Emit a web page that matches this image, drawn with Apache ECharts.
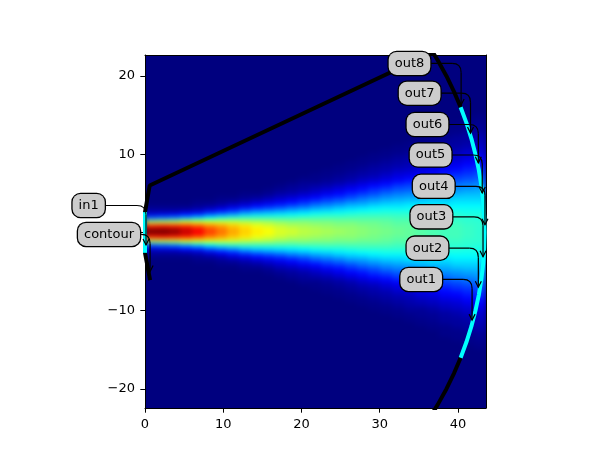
<!DOCTYPE html>
<html><head><meta charset="utf-8">
<script src="https://cdn.jsdelivr.net/npm/echarts@6/dist/echarts.min.js"></script>
<style>html,body{margin:0;background:#fff}#c{width:614px;height:460px}
/* the field layer (zlevel 0) is softened and cut back to the plot rectangle */
#c canvas:first-child{background:#00007f;filter:blur(2.5px);clip-path:inset(55px 128px 52px 145px)}
</style></head>
<body><div id="c"></div><script>
// half-profiles of the field (percent of colour scale), per column; rows at |y| = .25,.75,1.25,...
const fieldColumns = [
[100,85,55,22,8,3,1],
[100,86,56,24,9,3,1],
[98,85,57,26,10,3,1],
[93,84,60,30,13,4,1],
[88,80,60,34,15,6,2,1],
[81,75,60,38,20,9,3,1],
[76,72,59,41,24,12,5,2,1],
[71,68,58,43,27,15,8,3,1],
[67,65,56,44,31,19,10,5,2,1],
[64,61,55,44,33,22,13,7,3,1],
[62,59,54,44,34,24,15,9,5,2,1],
[59,57,52,44,35,26,17,11,7,4,2,1],
[58,55,51,44,36,28,20,13,9,5,3,2,1],
[56,54,51,45,37,30,22,16,11,7,4,3,2,1],
[55,53,50,45,39,32,25,19,13,9,6,4,2,1,1],
[54,52,50,45,40,33,27,21,16,11,8,5,3,2,1,1],
[53,51,49,45,40,35,29,23,18,13,10,7,4,3,2,1,1],
[52,51,49,45,41,36,31,26,20,16,12,9,6,4,3,2,1,1],
[51,50,48,45,42,37,32,27,23,18,14,11,8,6,4,3,2,1,1],
[50,49,48,45,42,38,34,29,25,20,17,13,10,7,5,4,3,2,1,1],
[49,48,47,45,42,39,35,31,27,23,19,15,12,9,7,5,4,3,2,1,1],
[48,47,46,44,42,39,35,32,28,25,21,18,14,11,9,7,5,4,3,2,1,1],
[47,47,46,44,42,39,36,33,29,26,22,19,16,13,10,8,6,5,4,3,2,1,1],
[46,46,45,43,41,39,36,33,30,27,24,20,17,14,12,10,8,6,5,3,2,2,1,1],
[45,45,44,43,41,39,36,34,31,28,25,22,19,16,13,11,9,7,6,4,3,2,2,1,1],
[44,44,43,42,41,39,36,34,31,29,26,23,20,18,15,13,11,9,7,6,4,3,3,2,1,1,1],
[44,44,43,42,41,39,37,35,33,30,27,25,22,19,17,14,12,10,8,7,5,4,3,3,2,1,1,1],
[43,43,42,42,40,39,37,35,33,31,28,26,23,21,18,16,14,12,10,8,7,5,4,3,3,2,1,1,1],
[42,42,42,41,40,39,37,35,33,31,29,27,25,22,20,18,16,14,12,10,8,7,6,5,4,3,2,2,1,1]
];
const halfRows = 45;
const jetColors = ['#00007f','#0000ff','#007fff','#00ffff','#7fff7f','#ffff00','#ff7f00','#ff0000','#7f0000'];

const contourBlack = [[0.65,-6.1],[0,-2.6],[0,2.6],[0.6,6],[36.8,23],[37.41,22],[38.52,20],[39.49,18],[40.34,16]];
const contourBlackLower = [[40.34,-16],[39.49,-18],[38.52,-20],[37.41,-22],[36.8,-23]];
const outPort = [[40.34,16],[41.08,14],[41.71,12],[42.23,10],[42.66,8],[42.98,6],[43.22,4],[43.35,2],[43.4,0],[43.35,-2],[43.22,-4],[42.98,-6],[42.66,-8],[42.23,-10],[41.71,-12],[41.08,-14],[40.34,-16]];
const inPort = [[0,2.6],[0,-2.6]];

const boxNames = ['in1','contour','out1','out2','out3','out4','out5','out6','out7','out8'];
const boxX = [-7.2,-4.6,35.3,36.1,36.6,36.9,36.5,36.1,35.1,33.8];
const boxY = [3.45,-0.25,-6,-2,2,5.9,9.9,13.8,17.8,21.6];
const tipX = [0.13,0.65,41.8,42.6,43.2,43.45,43.1,42.6,41.6,40.4];
const tipY = [-1.6,-5,-11.2,-7,-3.1,1,5.05,8.9,12.7,16.3];

const xTicks = [0,10,20,30,40];
const yTicks = [-20,-10,0,10,20];

const nCols = fieldColumns.length, nRows = halfRows*2;
const cells = [];
fieldColumns.forEach((col,i)=>{
  for(let k=0;k<halfRows;k++){
    const v = col[k]||0;
    cells.push([i,halfRows+k,v]);
    cells.push([i,halfRows-1-k,v]);
  }
});
const tickOpts = {show:true,length:4.7,lineStyle:{color:'#000',width:1}};
const font = {color:'#000',fontFamily:'DejaVu Sans',fontSize:13};
const spine = {show:true,onZero:false,lineStyle:{color:'#000',width:1}};
const chart = echarts.init(document.getElementById('c'),null,{renderer:'canvas'});
chart.setOption({
  animation:false,
  grid:{left:145,top:55,width:341,height:353,containLabel:false},
  visualMap:{show:false,min:0,max:100,seriesIndex:0,dimension:2,inRange:{color:jetColors}},
  xAxis:[
    {type:'value',min:0,max:43.58,splitLine:{show:false},zlevel:1,z:2,
     axisLine:spine,
     axisTick:{...tickOpts,customValues:xTicks},
     axisLabel:{...font,margin:10,customValues:xTicks,formatter:v=>String(v)}},
    {type:'category',show:false,data:fieldColumns.map((_,i)=>i)},
    {type:'value',min:0,max:43.58,position:'top',zlevel:1,z:2,splitLine:{show:false},axisTick:{show:false},axisLabel:{show:false},axisLine:spine}
  ],
  yAxis:[
    {type:'value',min:-22.43,max:22.68,splitLine:{show:false},zlevel:1,z:2,
     axisLine:spine,
     axisTick:{...tickOpts,customValues:yTicks},
     axisLabel:{...font,margin:10,customValues:yTicks,formatter:v=>String(v).replace('-','\u2212')}},
    {type:'category',show:false,data:Array.from({length:nRows},(_,i)=>i)},
    {type:'value',min:-22.43,max:22.68,position:'right',zlevel:1,z:2,splitLine:{show:false},axisTick:{show:false},axisLabel:{show:false},axisLine:spine}
  ],
  series:[
    {type:'custom',xAxisIndex:1,yAxisIndex:1,data:cells,silent:true,zlevel:0,z:1,clip:false,
     encode:{x:0,y:1},progressive:0,
     renderItem:(params,api)=>{
       const c=api.coord([api.value(0),api.value(1)]), sz=api.size([1,1]);
       const x0=Math.round(c[0]-sz[0]/2), x1=Math.round(c[0]+sz[0]/2);
       const y0=Math.round(c[1]-sz[1]/2), y1=Math.round(c[1]+sz[1]/2);
       return {type:'rect',shape:{x:x0,y:y0,width:x1-x0,height:y1-y0},style:{fill:api.visual('color')}};
     }},
    {type:'line',data:contourBlack,showSymbol:false,silent:true,zlevel:1,z:3,lineStyle:{color:'#000',width:4}},
    {type:'line',data:contourBlackLower,showSymbol:false,silent:true,zlevel:1,z:3,lineStyle:{color:'#000',width:4}},
    {type:'line',data:outPort,showSymbol:false,silent:true,zlevel:1,z:4,lineStyle:{color:'#00ffff',width:4}},
    {type:'line',data:inPort,showSymbol:false,silent:true,zlevel:1,z:4,lineStyle:{color:'#00ffff',width:4}},
    {type:'custom',silent:true,zlevel:1,z:6,clip:false,
     data:boxNames.map((n,i)=>[boxX[i],boxY[i],tipX[i],tipY[i]]),
     encode:{x:[0,2],y:[1,3]},
     renderItem:(params,api)=>{
       const s=api.coord([api.value(0),api.value(1)]), e=api.coord([api.value(2),api.value(3)]);
       const r=9, st={stroke:'#000',lineWidth:1.2,fill:null};
       return {type:'group',children:[
         {type:'line',shape:{x1:s[0],y1:s[1],x2:e[0]-r,y2:s[1]},style:st},
         {type:'bezierCurve',shape:{x1:e[0]-r,y1:s[1],x2:e[0],y2:s[1]+r,cpx1:e[0],cpy1:s[1]},style:st},
         {type:'line',shape:{x1:e[0],y1:s[1]+r,x2:e[0],y2:e[1]},style:st},
         {type:'polyline',shape:{points:[[e[0]-3,e[1]-6],[e[0],e[1]],[e[0]+3,e[1]-6]]},style:st}
       ]};
     }},
    {type:'scatter',silent:true,zlevel:1,z:8,clip:false,symbolSize:1,itemStyle:{color:'rgba(0,0,0,0)',opacity:1},
     data:boxNames.map((n,i)=>({name:n,value:[boxX[i],boxY[i]]})),
     label:{show:true,position:'inside',formatter:'{b}',color:'#000',fontFamily:'DejaVu Sans',fontSize:13,
       backgroundColor:'#cccccc',borderColor:'#000',borderWidth:1.3,borderRadius:8,padding:[5,6,5,6]}}
  ]
});
</script></body></html>
